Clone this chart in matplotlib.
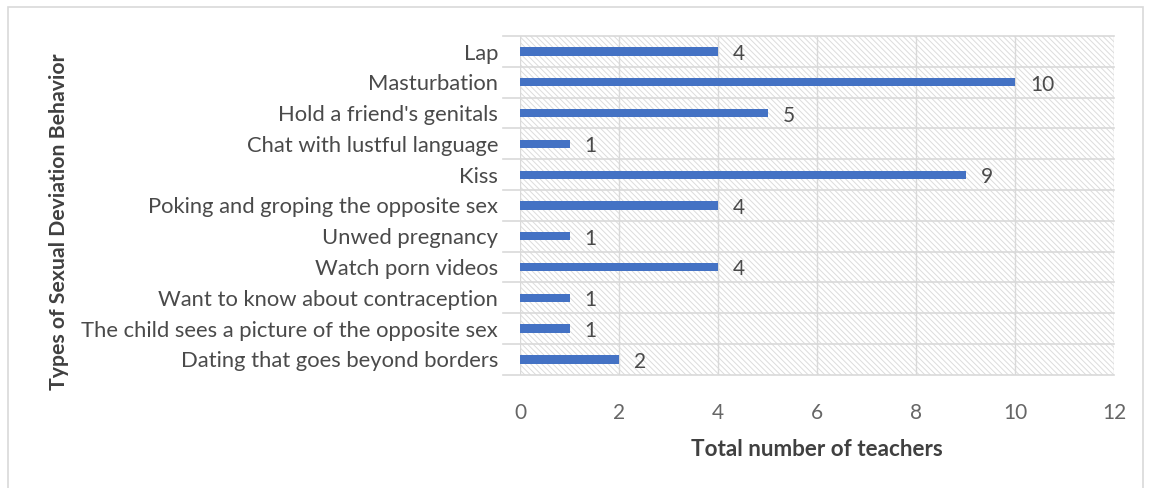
import matplotlib.pyplot as plt
from matplotlib.patches import Rectangle

categories = ["Lap", "Masturbation", "Hold a friend's genitals", "Chat with lustful language",
              "Kiss", "Poking and groping the opposite sex", "Unwed pregnancy",
              "Watch porn videos", "Want to know about contraception",
              "The child sees a picture of the opposite sex", "Dating that goes beyond borders"]
counts = [4, 10, 5, 1, 9, 4, 1, 4, 1, 1, 2]
x_ticks = [0, 2, 4, 6, 8, 10, 12]

plt.rcParams['font.family'] = ['Lato', 'DejaVu Sans']
plt.rcParams['hatch.color'] = '#dcdcdc'
plt.rcParams['hatch.linewidth'] = 0.7

fig = plt.figure(figsize=(11.51, 4.88), dpi=100)
ax = fig.add_axes([0.452, 0.232, 0.516, 0.694])

# outer chart border
fig.patches.append(Rectangle((8 / 1151, -0.05), 1135 / 1151, 1 - 7 / 488 + 0.05,
                             transform=fig.transFigure, fill=False,
                             edgecolor='#d9d9d9', linewidth=1.2))

n = len(categories)
ypos = list(range(n))
ax.add_patch(Rectangle((0, -0.5), 12, n, facecolor='white', hatch='\\\\\\\\\\\\',
                       edgecolor='#dcdcdc', linewidth=0, zorder=0))
ax.barh(ypos, counts, height=0.27, color='#4472c4', zorder=3)
for y, v in zip(ypos, counts):
    ax.text(v + 0.3, y + 0.08, str(v), va='center', ha='left', fontsize=15,
            color='#4a4a4a', zorder=4)

ax.set_xlim(0, 12)
ax.set_ylim(n - 0.5, -0.5)
ax.set_xticks(x_ticks)
ax.set_xticklabels([str(t) for t in x_ticks], fontsize=15, color='#666666')
ax.set_yticks(ypos)
ax.set_yticklabels(categories, fontsize=15.8, color='#4a4a4a')
ax.tick_params(axis='y', length=0, pad=16)
ax.tick_params(axis='x', length=0, pad=20)

# gridlines at category boundaries and x ticks
for b in range(n + 1):
    ax.plot([-0.35, 12], [b - 0.5, b - 0.5], color='#d9d9d9', linewidth=1.2,
            clip_on=False, zorder=1)
for t in x_ticks:
    ax.axvline(t, color='#d9d9d9', linewidth=1.0, zorder=1)
for s in ax.spines.values():
    s.set_visible(False)

ax.set_xlabel('Total number of teachers', fontsize=16.2, fontweight='bold',
              color='#404040', labelpad=12)
fig.text(0.051, 0.545, 'Types of Sexual Deviation Behavior', rotation=90,
         fontsize=15.3, fontweight='bold', color='#404040', ha='center', va='center')

fig.savefig('out.png', dpi=100)
